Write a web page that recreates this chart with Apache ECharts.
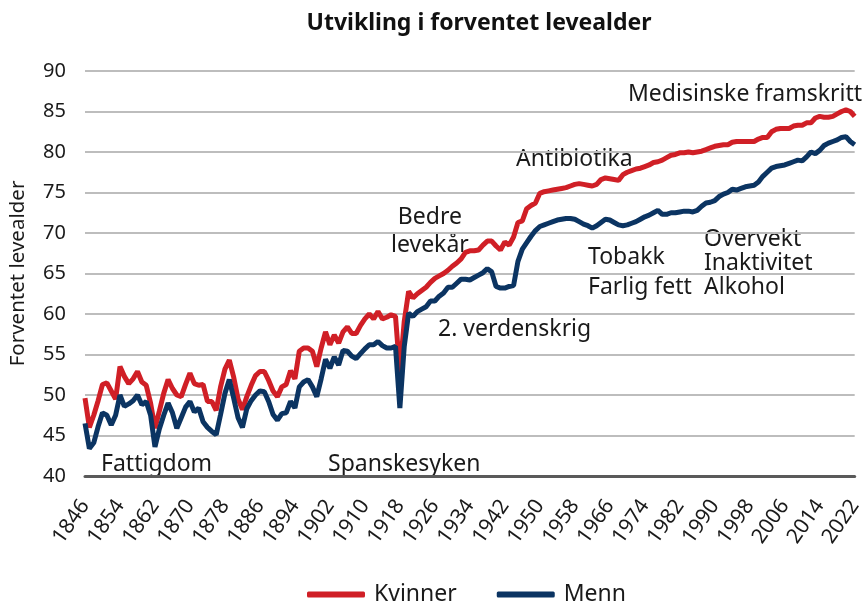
<!DOCTYPE html>
<html>
<head>
<meta charset="utf-8">
<script src="https://cdn.jsdelivr.net/npm/echarts@6/dist/echarts.min.js"></script>
<style>html,body{margin:0;padding:0;background:#fff}#c{width:865px;height:601px}</style>
</head>
<body>
<div id="c"></div>
<script>
const years = [];
for (let y = 1846; y <= 2022; y++) years.push(String(y));

const kvinner = [
49.6,46.0,47.5,49.3,51.3,51.5,50.5,49.5,53.5,52.3,51.4,52.0,52.9,51.6,51.2,49.0,45.9,48.0,50.2,51.9,
50.8,50.0,49.8,51.3,52.7,51.4,51.2,51.3,49.2,49.2,48.1,51.0,53.2,54.3,52.2,49.5,48.2,49.8,51.2,52.4,
52.9,52.9,51.8,50.5,49.8,51.0,51.3,53.0,52.0,55.4,55.8,55.8,55.4,53.5,55.8,57.8,56.2,57.4,56.4,57.8,
58.4,57.6,57.6,58.6,59.4,60.0,59.4,60.3,59.4,59.6,59.9,59.7,52.7,59.1,62.8,62.0,62.5,62.9,63.3,63.9,
64.4,64.7,65.0,65.4,65.9,66.3,66.8,67.6,67.8,67.8,67.9,68.5,69.0,69.0,68.4,67.9,68.9,68.5,69.5,71.3,
71.5,73.0,73.4,73.7,74.9,75.1,75.2,75.3,75.4,75.5,75.6,75.8,76.0,76.1,76.0,75.9,75.8,76.0,76.6,76.8,
76.7,76.6,76.5,77.2,77.5,77.7,77.9,78.0,78.2,78.4,78.7,78.8,79.0,79.3,79.6,79.7,79.9,79.9,80.0,79.9,
80.0,80.1,80.3,80.5,80.7,80.8,80.9,80.9,81.2,81.3,81.3,81.3,81.3,81.3,81.6,81.8,81.8,82.5,82.8,82.9,
82.9,82.9,83.2,83.3,83.3,83.6,83.6,84.2,84.4,84.3,84.3,84.4,84.7,85.0,85.2,85.0,84.4
];

const menn = [
46.5,43.4,44.1,46.1,47.8,47.5,46.3,47.5,50.0,48.6,48.9,49.3,50.0,48.8,49.2,47.5,43.6,45.8,47.5,49.0,
47.8,45.9,47.2,48.5,49.2,47.9,48.4,46.7,46.0,45.5,45.1,47.6,50.2,51.9,49.6,47.2,46.0,48.3,49.3,50.0,
50.5,50.4,49.2,47.6,46.9,47.7,47.8,49.2,48.4,51.0,51.6,51.9,51.0,49.8,52.0,54.4,53.3,54.7,53.7,55.5,
55.4,54.8,54.5,55.1,55.7,56.2,56.2,56.6,56.1,55.8,55.8,56.0,48.4,56.0,60.1,59.7,60.3,60.6,60.9,61.6,
61.6,62.2,62.6,63.3,63.3,63.8,64.3,64.3,64.2,64.5,64.8,65.1,65.6,65.2,63.4,63.2,63.2,63.4,63.5,66.5,
68.0,68.8,69.6,70.3,70.8,71.0,71.2,71.4,71.6,71.7,71.8,71.8,71.7,71.4,71.1,70.9,70.6,70.9,71.3,71.7,
71.6,71.3,71.0,70.9,71.0,71.2,71.4,71.7,72.0,72.2,72.5,72.8,72.3,72.3,72.5,72.5,72.6,72.7,72.7,72.6,
72.8,73.3,73.7,73.8,74.0,74.5,74.8,75.0,75.4,75.3,75.5,75.7,75.8,75.9,76.3,77.0,77.5,78.0,78.2,78.3,
78.4,78.6,78.8,79.0,78.9,79.4,80.0,79.8,80.2,80.8,81.1,81.3,81.5,81.8,81.9,81.3,80.9
];

const yTicks = [40, 45, 50, 55, 60, 65, 70, 75, 80, 85, 90];

const FONT = '"Noto Sans", "Open Sans", sans-serif';
const TXT = '#1a1a1a';

function note(text, left, top, align, lh) {
  return { type: 'text', left: left, top: top,
    style: { text: text, font: '23px ' + FONT, fill: TXT, textAlign: align || 'left', lineHeight: lh || 26 } };
}

const chart = echarts.init(document.getElementById('c'), null, { renderer: 'canvas' });
chart.setOption({
  animation: false,
  backgroundColor: '#fff',
  title: {
    text: 'Utvikling i forventet levealder',
    left: 474, top: 7, textAlign: 'center',
    textStyle: { fontFamily: FONT, fontSize: 23, fontWeight: 'bold', color: '#111' }
  },
  grid: { left: 85, right: 4, top: 71, bottom: 125, containLabel: false },
  legend: {
    top: 578, left: 302, itemGap: 40,
    icon: 'roundRect', itemWidth: 58, itemHeight: 6,
    textStyle: { fontFamily: FONT, fontSize: 23, color: TXT, padding: [0, 0, 0, 4] },
    data: ['Kvinner', 'Menn']
  },
  xAxis: {
    type: 'category', data: years, boundaryGap: false,
    axisLine: { lineStyle: { color: '#5a5a5a', width: 3 } },
    axisTick: { show: false },
    axisLabel: { interval: 7, rotate: 55, fontFamily: FONT, fontSize: 21, color: TXT, margin: 26 }
  },
  yAxis: {
    type: 'value', min: yTicks[0], max: yTicks[yTicks.length - 1], interval: 5,
    name: 'Forventet levealder', nameLocation: 'middle', nameGap: 56,
    nameTextStyle: { fontFamily: FONT, fontSize: 20.5, color: TXT },
    axisLine: { show: false }, axisTick: { show: false },
    axisLabel: { fontFamily: FONT, fontSize: 20, color: TXT, margin: 19 },
    splitLine: { lineStyle: { color: '#bdbdbd', width: 2 } }
  },
  series: [
    { name: 'Kvinner', type: 'line', data: kvinner, symbol: 'none', smooth: false,
      lineStyle: { color: '#d01f26', width: 5 }, itemStyle: { color: '#d01f26' } },
    { name: 'Menn', type: 'line', data: menn, symbol: 'none', smooth: false,
      lineStyle: { color: '#0b3462', width: 5 }, itemStyle: { color: '#0b3462' } }
  ],
  graphic: [
    note('Medisinske framskritt', 628, 81),
    note('Antibiotika', 516, 146),
    note('Bedre\nlevekår', 391, 203, 'center', 28),
    note('Tobakk\nFarlig fett', 588, 242, 'left', 30),
    note('Overvekt\nInaktivitet\nAlkohol', 704, 227, 'left', 24),
    note('2. verdenskrig', 438, 316),
    note('Fattigdom', 101, 451),
    note('Spanskesyken', 328, 451)
  ]
});
</script>
</body>
</html>
